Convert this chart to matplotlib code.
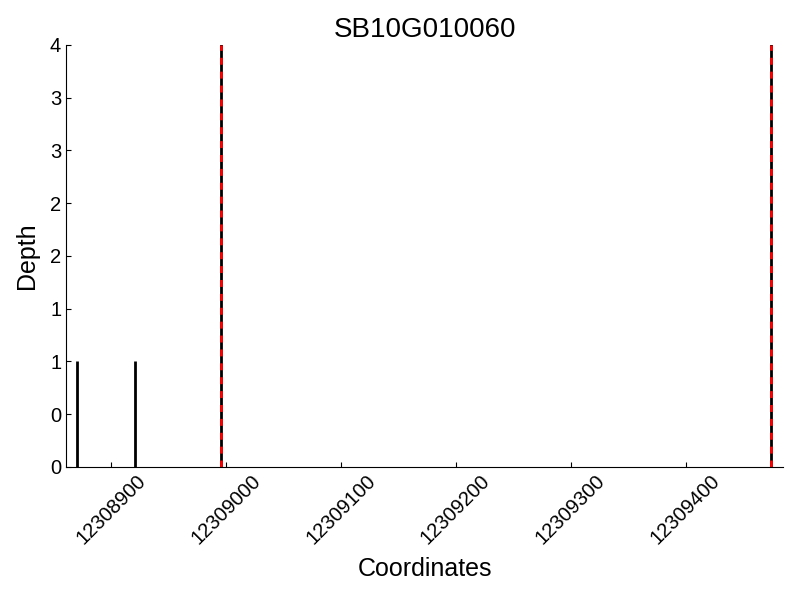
import numpy as np
import matplotlib
matplotlib.use('Agg')
from matplotlib import pyplot as plt
from matplotlib.ticker import FuncFormatter

plt.rcParams['font.family'] = ['Liberation Sans', 'DejaVu Sans']

# 读数数据
title = 'SB10G010060'
read_pos = [12308871, 12308921]
read_depth = [1, 1]
gene_bounds = [12308996, 12309474]
x_range = [12308861, 12309485]
y_max = 4

fig = plt.figure(figsize=(8, 6), dpi=100)
ax = fig.add_axes([0.0825, 0.222, 0.8965, 0.703])

ax.vlines(read_pos, 0, read_depth, colors='black', linewidth=2)
for b in gene_bounds:
    ax.axvline(b, color='black', linewidth=2)
    ax.axvline(b, color='red', linewidth=2, linestyle=(0, (2.5, 2.5)))

ax.set_xlim(x_range)
ax.set_ylim(0, y_max)
ax.set_xticks(np.arange(12308900, 12309401, 100))
ax.set_yticks(np.arange(0, y_max + 0.1, 0.5))
ax.yaxis.set_major_formatter(FuncFormatter(lambda v, p: '%d' % int(v)))
ax.xaxis.set_major_formatter(FuncFormatter(lambda v, p: '%d' % int(v)))

ax.spines['top'].set_visible(False)
ax.spines['right'].set_visible(False)
ax.tick_params(direction='in', top=False, right=False, labelsize=14.5)
plt.setp(ax.get_xticklabels(), rotation=45)

ax.set_title(title, fontsize=20)
ax.set_xlabel('Coordinates', fontsize=18, labelpad=6)
ax.set_ylabel('Depth', fontsize=18, labelpad=8)

fig.savefig('out.png', dpi=100)
